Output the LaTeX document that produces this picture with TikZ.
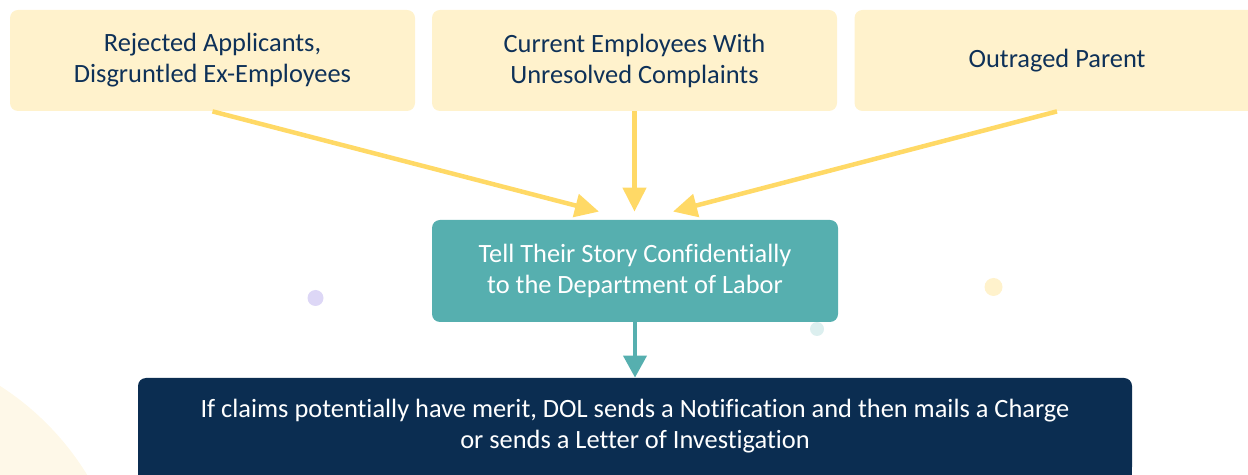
\documentclass[tikz,border=0pt]{standalone}
\usepackage{fontspec}
\setmainfont[Ligatures=NoCommon]{Carlito}
\usetikzlibrary{arrows.meta,calc}
\definecolor{cream}{HTML}{FFF2CC}
\definecolor{navytext}{HTML}{0E3158}
\definecolor{tealbox}{HTML}{56AFAF}
\definecolor{darkbox}{HTML}{0B2D51}
\definecolor{arrowyellow}{HTML}{FFD966}
\definecolor{lavender}{HTML}{DDD7F6}
\definecolor{paleteal}{HTML}{DCEFEF}
\definecolor{palecream}{HTML}{FEF8E8}
\begin{document}
\begin{tikzpicture}[x=0.5pt,y=-0.5pt,
  boxtext/.style={align=center,inner sep=0pt,font=\fontsize{13.2pt}{15.5pt}\selectfont},
  sourcebox/.style={boxtext,fill=cream,text=navytext,rounded corners=4pt,
    minimum width=202.5pt,minimum height=50.5pt},
  tellbox/.style={boxtext,fill=tealbox,text=white,rounded corners=4pt,
    minimum width=203pt,minimum height=51pt},
  resultbox/.style={boxtext,fill=darkbox,text=white,rounded corners=4pt,
    minimum width=497pt,minimum height=48.5pt},
  feed/.style={draw=arrowyellow,line width=2.25pt,-{Triangle[width=11.5pt,length=12pt]}},
  lead/.style={draw=tealbox,line width=2pt,-{Triangle[width=11.5pt,length=11pt]}}]
\useasboundingbox (0,0) rectangle (1248,475);
\clip (0,0) rectangle (1248,475);

% soft decorative shapes
\fill[palecream] (-150,620) circle (139pt);
\fill[lavender] (315.5,298) circle (4pt);
\fill[cream] (993.5,287) circle (4.5pt);
\fill[paleteal] (817,329) circle (3.5pt);

% sources
\node[sourcebox] (b1) at (212.5,60.5) {Rejected Applicants,\\Disgruntled Ex-Employees};
\node[sourcebox] (b2) at (634.5,60.5) {Current Employees With\\Unresolved Complaints};
\node[sourcebox] (b3) at (1057,60.5) {Outraged Parent};

% report to the DOL
\node[tellbox] (tell) at (635,271) {Tell Their Story Confidentially\\to the Department of Labor};

% outcome box, running off the lower edge
\node[resultbox] (result) at (635,426.5) {If claims potentially have merit, DOL sends a Notification and then mails a Charge\\or sends a Letter of Investigation};
\fill[darkbox] ($(result.south west)+(0,-12)$) rectangle ($(result.south east)+(0,20)$);

% arrow tips just above the teal box
\coordinate (t1) at ($(tell.north)+(-36,-8)$);
\coordinate (t2) at ($(tell.north)+(-0.5,-8)$);
\coordinate (t3) at ($(tell.north)+(38,-8)$);

\draw[feed] (b1.south) -- (t1);
\draw[feed] (b2.south) -- (t2);
\draw[feed] (b3.south) -- (t3);
\draw[lead] (tell.south) -- (result.north);
\end{tikzpicture}
\end{document}
